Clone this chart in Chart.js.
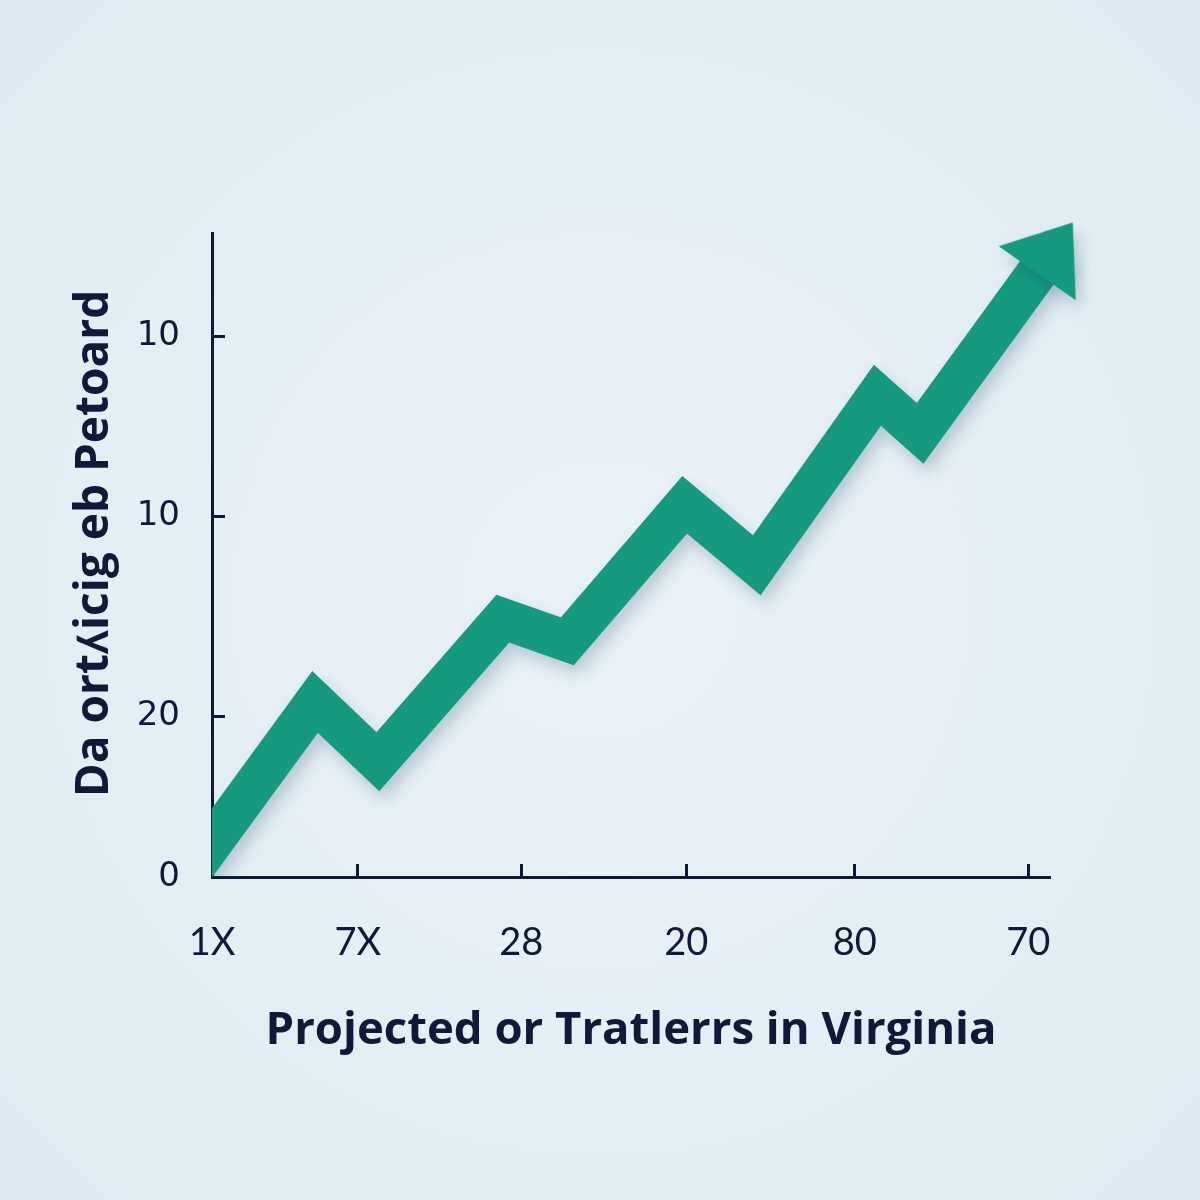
<!DOCTYPE html>
<html>
<head>
<meta charset="utf-8">
<script src="https://cdn.jsdelivr.net/npm/chart.js@4.4.0/dist/chart.umd.min.js"></script>
<style>
html,body{margin:0;padding:0;width:1200px;height:1200px;overflow:hidden;
background:radial-gradient(ellipse at 50% 50%, #e9f2f7 0%, #e3eef4 65%, #dfebf2 100%);}
#wrap{position:relative;width:1200px;height:1200px;}
canvas{display:block;}
</style>
</head>
<body>
<div id="wrap"><canvas id="c" width="1200" height="1200"></canvas></div>
<script>
// ---- data ----
const xTickValues = [0, 17.4, 36.9, 56.6, 76.7, 97.4];
const xTickLabels = ['1X', '7X', '28', '20', '80', '70'];
const yTickValues = [0, 25, 56, 84];
const yTickLabels = ['0', '20', '10', '10'];
const seriesX = [-3.6, 0, 12.3, 19.8, 34.7, 42.4, 56.4, 65.0, 79.4, 84.5, 100.6];
const seriesY = [-1.1, 5.3, 27.2, 17.9, 40.1, 36.6, 57.8, 48.4, 74.8, 68.9, 97.7];
const xTitle = 'Projected or Tratlerrs in Virginia';
const yTitle = '\u2002Da ortʎicig eb Petoard';

// ---- styles ----
const GREEN = '#15997f';
const INK = '#0f1a39';

function makeArrowHead(w, h, color) {
  const cv = document.createElement('canvas');
  cv.width = w; cv.height = h;
  const g = cv.getContext('2d');
  g.fillStyle = color;
  g.beginPath();
  g.moveTo(w / 2, 0);
  g.lineTo(w, h);
  g.lineTo(0, h);
  g.closePath();
  g.fill();
  return cv;
}
const arrowHead = makeArrowHead(94, 62, GREEN);
const lastIdx = seriesX.length - 1;

const shadowPlugin = {
  id: 'softShadow',
  beforeDatasetDraw(chart) {
    const c = chart.ctx;
    c.save();
    c.shadowColor = 'rgba(20,60,85,0.22)';
    c.shadowBlur = 16;
    c.shadowOffsetX = 5;
    c.shadowOffsetY = 9;
  },
  afterDatasetDraw(chart) { chart.ctx.restore(); }
};

new Chart(document.getElementById('c'), {
  type: 'line',
  data: {
    datasets: [{
      data: seriesX.map((x, i) => ({ x: x, y: seriesY[i] })),
      borderColor: GREEN,
      borderWidth: 41,
      borderJoinStyle: 'miter',
      borderCapStyle: 'butt',
      tension: 0,
      fill: false,
      clip: { left: 0, top: false, right: false, bottom: 0 },
      pointRadius: seriesX.map((_, i) => i === lastIdx ? 40 : 0),
      pointHoverRadius: seriesX.map((_, i) => i === lastIdx ? 40 : 0),
      pointStyle: (ctx) => ctx.dataIndex === lastIdx ? arrowHead : 'circle',
      pointRotation: 35,
      pointBackgroundColor: GREEN,
      pointBorderWidth: 0
    }]
  },
  options: {
    responsive: false,
    animation: false,
    devicePixelRatio: 1,
    layout: { padding: { top: 233, right: 150, left: 0, bottom: 0 } },
    plugins: { legend: { display: false }, tooltip: { enabled: false } },
    scales: {
      x: {
        type: 'linear',
        min: 0, max: 100,
        afterBuildTicks: (s) => { s.ticks = xTickValues.map(v => ({ value: v })); },
        afterFit: (s) => { s.height = 323; },
        ticks: {
          autoSkip: false, maxRotation: 0, minRotation: 0,
          padding: 56,
          color: INK,
          font: { family: 'Lato, "Open Sans", sans-serif', size: 38, weight: 'normal' },
          callback: (v, i) => xTickLabels[i]
        },
        grid: { display: true, drawOnChartArea: false, drawTicks: true, tickLength: -13, tickWidth: 3, color: INK },
        border: { display: true, color: INK, width: 3 },
        title: {
          display: true, text: xTitle, color: INK,
          font: { family: '"Open Sans", Lato, sans-serif', size: 45.5, weight: 'bold' },
          padding: { top: 0, bottom: 142 }
        }
      },
      y: {
        type: 'linear',
        min: 0, max: 100,
        afterBuildTicks: (s) => { s.ticks = yTickValues.map(v => ({ value: v })); },
        afterFit: (s) => { s.width = 212; },
        ticks: {
          autoSkip: false,
          padding: 45,
          color: INK,
          font: { family: '"DejaVu Sans", sans-serif', size: 34, weight: 'normal' },
          callback: (v, i) => yTickLabels[i]
        },
        grid: { display: true, drawOnChartArea: false, drawTicks: true, tickLength: -13, tickWidth: 3, color: INK },
        border: { display: true, color: INK, width: 3 },
        title: {
          display: true, text: yTitle, color: INK,
          font: { family: '"Open Sans", Lato, sans-serif', size: 46, weight: 'bold' },
          padding: { top: 67, bottom: 0 }
        }
      }
    }
  },
  plugins: [shadowPlugin]
});
</script>
</body>
</html>
